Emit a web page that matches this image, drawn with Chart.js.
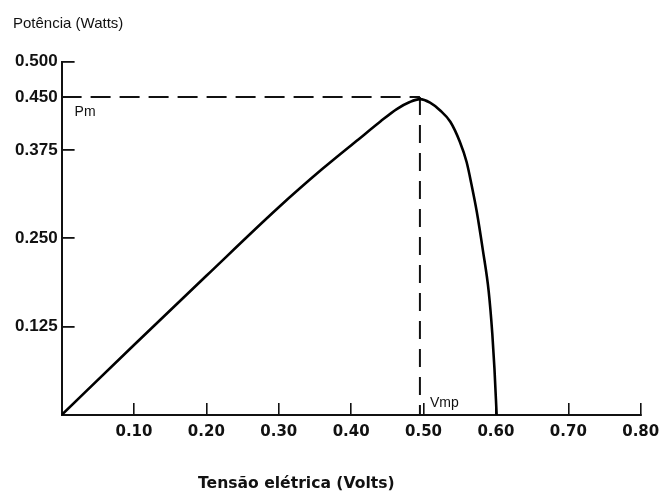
<!DOCTYPE html>
<html><head><meta charset="utf-8">
<script src="https://cdn.jsdelivr.net/npm/chart.js@4.4.1/dist/chart.umd.min.js"></script>
<style>html,body{margin:0;padding:0;background:#fff}#wrap{width:659px;height:493px}</style>
</head><body><div id="wrap"><canvas id="c" width="659" height="493"></canvas></div>
<script>
// Data
const voltage = [0, 0.10, 0.20, 0.30, 0.36, 0.41, 0.44, 0.463, 0.481, 0.495, 0.509, 0.523, 0.537, 0.550, 0.5595, 0.5665, 0.5735, 0.582, 0.590, 0.595, 0.598, 0.601];
const power   = [0, 0.099, 0.197, 0.294, 0.348, 0.390, 0.415, 0.433, 0.443, 0.447, 0.442, 0.431, 0.415, 0.387, 0.358, 0.325, 0.288, 0.233, 0.175, 0.115, 0.065, 0];
const vmp = 0.495;
const pm = 0.45;
const xTickValues = [0.1, 0.2, 0.3, 0.4, 0.5, 0.6, 0.7, 0.8];
const xTickLabels = ['0.10', '0.20', '0.30', '0.40', '0.50', '0.60', '0.70', '0.80'];
const yTickValues = [0.125, 0.25, 0.375, 0.45, 0.5];
const yTickLabels = ['0.125', '0.250', '0.375', '0.450', '0.500'];
const yTitle = 'Potência (Watts)';
const xTitle = 'Tensão elétrica (Volts)';
const pmLabel = 'Pm';
const vmpLabel = 'Vmp';

const curve = voltage.map((v, i) => ({x: v, y: power[i]}));
const pmLine = [{x: 0, y: pm}, {x: vmp, y: pm}];
const vmpLine = [{x: vmp, y: pm}, {x: vmp, y: 0}];

const textPlugin = {
  id: 'texts',
  afterDraw(chart) {
    const ctx = chart.ctx;
    const xs = chart.scales.x, ys = chart.scales.y;
    ctx.save();
    ctx.fillStyle = '#111';
    ctx.textBaseline = 'alphabetic';
    ctx.textAlign = 'left';
    ctx.font = '15px "Liberation Sans", Arial, sans-serif';
    ctx.fillText(yTitle, 13, 28);
    ctx.font = '14px "Liberation Sans", Arial, sans-serif';
    ctx.fillText(pmLabel, xs.getPixelForValue(0) + 13, ys.getPixelForValue(pm) + 19);
    ctx.fillText(vmpLabel, xs.getPixelForValue(vmp) + 10, ys.getPixelForValue(0) - 8);
    ctx.font = 'bold 15.6px "DejaVu Sans", sans-serif';
    ctx.fillText(xTitle, 198, 488);
    ctx.restore();
  }
};

new Chart(document.getElementById('c'), {
  type: 'line',
  data: {
    datasets: [
      {data: curve, borderColor: '#000', borderWidth: 2.6, pointRadius: 0, cubicInterpolationMode: 'monotone', fill: false},
      {data: pmLine, borderColor: '#111', borderWidth: 2, borderDash: [20, 9], pointRadius: 0, fill: false},
      {data: vmpLine, borderColor: '#111', borderWidth: 2, borderDash: [18, 10], pointRadius: 0, fill: false}
    ]
  },
  plugins: [textPlugin],
  options: {
    responsive: false,
    animation: false,
    devicePixelRatio: 1,
    layout: {padding: {left: 0, right: 18.3, top: 61.7, bottom: 0}},
    plugins: {legend: {display: false}, tooltip: {enabled: false}, title: {display: false}},
    scales: {
      x: {
        type: 'linear', min: 0, max: 0.8,
        afterBuildTicks: (s) => { s.ticks = xTickValues.map(v => ({value: v})); },
        afterFit: (s) => { s.height = 78; s.paddingLeft = 0; s.paddingRight = 0; },
        ticks: {
          autoSkip: false, maxRotation: 0, padding: 20, color: '#111',
          font: {family: '"DejaVu Sans", sans-serif', size: 15, weight: 'bold'},
          callback: (v, i) => xTickLabels[i]
        },
        grid: {drawOnChartArea: false, drawTicks: true, tickLength: -12, color: '#111', lineWidth: 1.6},
        border: {display: true, color: '#111', width: 2}
      },
      y: {
        type: 'linear', min: 0, max: 0.5,
        afterBuildTicks: (s) => { s.ticks = yTickValues.map(v => ({value: v})); },
        afterFit: (s) => { s.width = 61.6; s.paddingTop = 0; s.paddingBottom = 0; },
        ticks: {
          autoSkip: false, padding: 17, color: '#111',
          font: {family: '"Liberation Sans", Arial, sans-serif', size: 17, weight: 'bold'},
          callback: (v, i) => yTickLabels[i]
        },
        grid: {drawOnChartArea: false, drawTicks: true, tickLength: -13, color: '#111', lineWidth: 1.8},
        border: {display: true, color: '#111', width: 2}
      }
    }
  }
});
</script>
</body></html>
